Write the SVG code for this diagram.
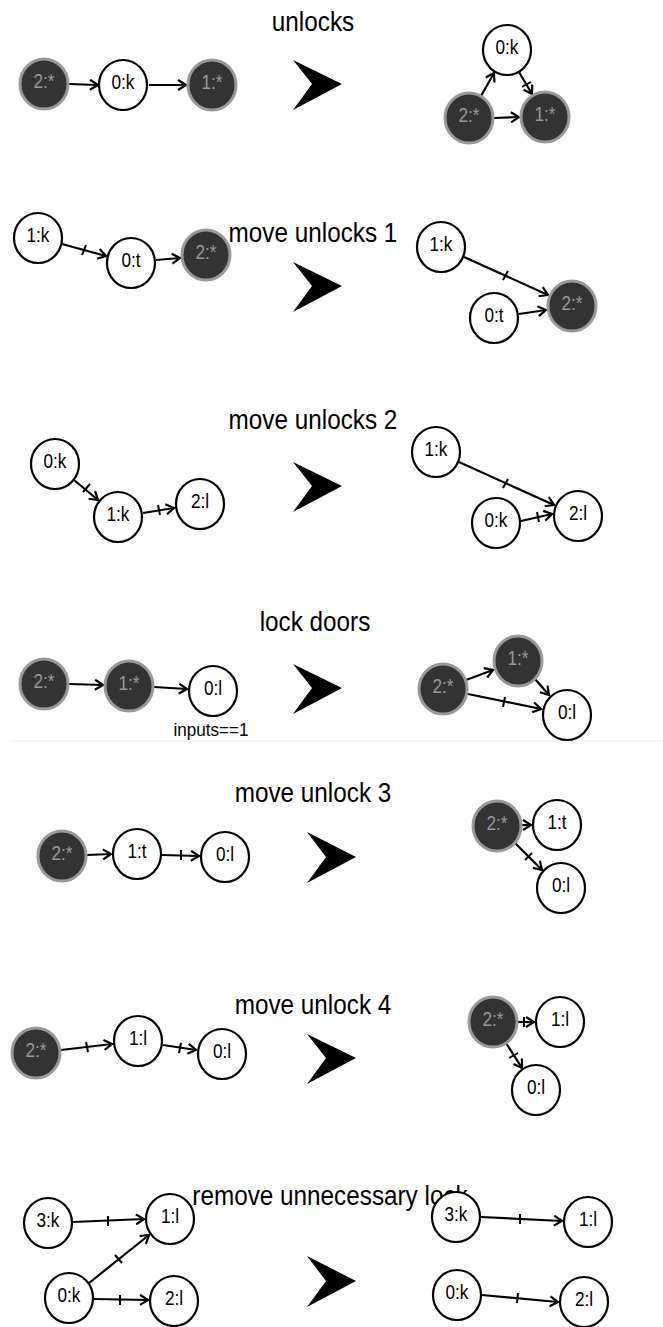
<svg xmlns="http://www.w3.org/2000/svg" width="663" height="1327" viewBox="0 0 663 1327">
<defs>
<marker id="arr" markerUnits="userSpaceOnUse" markerWidth="14" markerHeight="14" refX="10" refY="6" orient="auto">
<path d="M2,1 L10,6 L2,11" fill="none" stroke="#000" stroke-width="2.2"/>
</marker>
<style>
.w{fill:#fff;stroke:#000;stroke-width:2.2}
.d{fill:#333;stroke:#999;stroke-width:3}
.t{font-family:"Liberation Sans",Arial,sans-serif;font-size:20px;text-anchor:middle;fill:#000}
.td{font-family:"Liberation Sans",Arial,sans-serif;font-size:20px;text-anchor:middle;fill:#999}
.title{font-family:"Liberation Sans",Arial,sans-serif;font-size:27px;text-anchor:middle;fill:#000}
.e{stroke:#000;stroke-width:2.2;fill:none;marker-end:url(#arr)}
.k{stroke:#000;stroke-width:2}
.chev{fill:#000}
</style>
</defs>
<rect width="663" height="1327" fill="#fff"/>
<line x1="10" y1="741" x2="663" y2="741" stroke="#eee" stroke-width="1"/>

<g id="titles">
<text class="title" transform="translate(313,31) scale(0.9,1)">unlocks</text>
<text class="title" transform="translate(313,242) scale(0.9,1)">move unlocks 1</text>
<text class="title" transform="translate(313,429) scale(0.9,1)">move unlocks 2</text>
<text class="title" transform="translate(315,631) scale(0.9,1)">lock doors</text>
<text class="title" transform="translate(313,802) scale(0.9,1)">move unlock 3</text>
<text class="title" transform="translate(313,1014) scale(0.9,1)">move unlock 4</text>
<text class="title" transform="translate(330,1205) scale(0.9,1)">remove unnecessary lock</text>
</g>

<g id="chevrons">
<polygon class="chev" points="293,60 342,84 293,110 312,84"/>
<polygon class="chev" points="293,262 342,286 293,312 312,286"/>
<polygon class="chev" points="293,462 342,486 293,512 312,486"/>
<polygon class="chev" points="293,664 342,688 293,714 312,688"/>
<polygon class="chev" points="307,832 356,857 307,883 326,857"/>
<polygon class="chev" points="307,1034 356,1058 307,1084 326,1058"/>
<polygon class="chev" points="307,1256 356,1281 307,1307 326,1281"/>
</g>

<g id="connectors">
<line class="e" x1="69" y1="84" x2="98" y2="85"/>
<line class="e" x1="149" y1="85" x2="186" y2="85"/>
<line class="e" x1="481" y1="96" x2="494" y2="73"/>
<line class="e" x1="519" y1="72" x2="532" y2="94"/>
<line class="k" x1="522" y1="87" x2="531" y2="82"/>
<line class="e" x1="494" y1="118" x2="519" y2="117"/>
<line class="e" x1="62" y1="244" x2="106" y2="256"/>
<line class="k" x1="82" y1="255" x2="86" y2="245"/>
<line class="e" x1="156" y1="260" x2="180" y2="258"/>
<line class="e" x1="464" y1="257" x2="548" y2="295"/>
<line class="k" x1="503" y1="280" x2="508" y2="271"/>
<line class="e" x1="519" y1="314" x2="546" y2="310"/>
<line class="e" x1="74" y1="480" x2="98" y2="500"/>
<line class="k" x1="83" y1="492" x2="90" y2="484"/>
<line class="e" x1="143" y1="513" x2="174" y2="508"/>
<line class="k" x1="158" y1="505" x2="160" y2="515"/>
<line class="e" x1="459" y1="462" x2="554" y2="505"/>
<line class="k" x1="503" y1="488" x2="508" y2="479"/>
<line class="e" x1="521" y1="521" x2="552" y2="514"/>
<line class="k" x1="537" y1="512" x2="539" y2="522"/>
<line class="e" x1="69" y1="684" x2="103" y2="685"/>
<line class="e" x1="154" y1="687" x2="187" y2="689"/>
<line class="e" x1="466" y1="680" x2="493" y2="670"/>
<line class="e" x1="535" y1="679" x2="549" y2="695"/>
<line class="e" x1="468" y1="694" x2="541" y2="709"/>
<line class="k" x1="505" y1="697" x2="503" y2="707"/>
<line class="e" x1="87" y1="855" x2="111" y2="854"/>
<line class="e" x1="162" y1="855" x2="199" y2="856"/>
<line class="k" x1="181" y1="850" x2="181" y2="860"/>
<line class="e" x1="515" y1="825" x2="531" y2="825"/>
<line class="e" x1="515" y1="843" x2="542" y2="870"/>
<line class="k" x1="532" y1="853" x2="525" y2="860"/>
<line class="e" x1="61" y1="1050" x2="112" y2="1044"/>
<line class="k" x1="86" y1="1042" x2="88" y2="1052"/>
<line class="e" x1="163" y1="1045" x2="196" y2="1050"/>
<line class="k" x1="181" y1="1043" x2="179" y2="1053"/>
<line class="e" x1="518" y1="1022" x2="534" y2="1022"/>
<line class="k" x1="524" y1="1017" x2="524" y2="1027"/>
<line class="e" x1="506" y1="1043" x2="522" y2="1068"/>
<line class="k" x1="509" y1="1058" x2="518" y2="1053"/>
<line class="e" x1="73" y1="1222" x2="144" y2="1219"/>
<line class="k" x1="108" y1="1216" x2="108" y2="1226"/>
<line class="e" x1="89" y1="1283" x2="149" y2="1235"/>
<line class="k" x1="115" y1="1255" x2="122" y2="1263"/>
<line class="e" x1="94" y1="1299" x2="148" y2="1300"/>
<line class="k" x1="120" y1="1295" x2="120" y2="1305"/>
<line class="e" x1="481" y1="1217" x2="562" y2="1221"/>
<line class="k" x1="520" y1="1214" x2="520" y2="1224"/>
<line class="e" x1="482" y1="1295" x2="558" y2="1302"/>
<line class="k" x1="518" y1="1293" x2="517" y2="1303"/>
</g>

<g id="p1-l-2"><ellipse class="d" cx="44" cy="84" rx="24" ry="25"/><text class="td" transform="translate(44,88) scale(0.86,1)">2:*</text></g>
<g id="p1-l-0"><ellipse class="w" cx="123" cy="85" rx="24" ry="25"/><text class="t" transform="translate(123,89) scale(0.86,1)">0:k</text></g>
<g id="p1-l-1"><ellipse class="d" cx="212" cy="85" rx="24" ry="25"/><text class="td" transform="translate(212,89) scale(0.86,1)">1:*</text></g>
<g id="p1-r-0"><ellipse class="w" cx="507" cy="50" rx="24" ry="25"/><text class="t" transform="translate(507,54) scale(0.86,1)">0:k</text></g>
<g id="p1-r-2"><ellipse class="d" cx="469" cy="118" rx="24" ry="25"/><text class="td" transform="translate(469,122) scale(0.86,1)">2:*</text></g>
<g id="p1-r-1"><ellipse class="d" cx="545" cy="117" rx="24" ry="25"/><text class="td" transform="translate(545,121) scale(0.86,1)">1:*</text></g>

<g id="p2-l-1"><ellipse class="w" cx="38" cy="238" rx="24" ry="25"/><text class="t" transform="translate(38,242) scale(0.86,1)">1:k</text></g>
<g id="p2-l-0"><ellipse class="w" cx="131" cy="263" rx="24" ry="25"/><text class="t" transform="translate(131,267) scale(0.86,1)">0:t</text></g>
<g id="p2-l-2"><ellipse class="d" cx="206" cy="255" rx="24" ry="25"/><text class="td" transform="translate(206,259) scale(0.86,1)">2:*</text></g>
<g id="p2-r-1"><ellipse class="w" cx="441" cy="247" rx="24" ry="25"/><text class="t" transform="translate(441,251) scale(0.86,1)">1:k</text></g>
<g id="p2-r-0"><ellipse class="w" cx="494" cy="318" rx="24" ry="25"/><text class="t" transform="translate(494,322) scale(0.86,1)">0:t</text></g>
<g id="p2-r-2"><ellipse class="d" cx="572" cy="306" rx="24" ry="25"/><text class="td" transform="translate(572,310) scale(0.86,1)">2:*</text></g>

<g id="p3-l-0"><ellipse class="w" cx="55" cy="464" rx="24" ry="25"/><text class="t" transform="translate(55,468) scale(0.86,1)">0:k</text></g>
<g id="p3-l-1"><ellipse class="w" cx="118" cy="517" rx="24" ry="25"/><text class="t" transform="translate(118,521) scale(0.86,1)">1:k</text></g>
<g id="p3-l-2"><ellipse class="w" cx="200" cy="504" rx="24" ry="25"/><text class="t" transform="translate(200,508) scale(0.86,1)">2:l</text></g>
<g id="p3-r-1"><ellipse class="w" cx="436" cy="452" rx="24" ry="25"/><text class="t" transform="translate(436,456) scale(0.86,1)">1:k</text></g>
<g id="p3-r-0"><ellipse class="w" cx="496" cy="523" rx="24" ry="25"/><text class="t" transform="translate(496,527) scale(0.86,1)">0:k</text></g>
<g id="p3-r-2"><ellipse class="w" cx="578" cy="516" rx="24" ry="25"/><text class="t" transform="translate(578,520) scale(0.86,1)">2:l</text></g>

<g id="p4-l-2"><ellipse class="d" cx="44" cy="684" rx="24" ry="25"/><text class="td" transform="translate(44,688) scale(0.86,1)">2:*</text></g>
<g id="p4-l-1"><ellipse class="d" cx="129" cy="686" rx="24" ry="25"/><text class="td" transform="translate(129,690) scale(0.86,1)">1:*</text></g>
<g id="p4-l-0"><ellipse class="w" cx="213" cy="691" rx="24" ry="25"/><text class="t" transform="translate(213,695) scale(0.86,1)">0:l</text>
<text class="t" style="font-size:19px" transform="translate(211,736) scale(0.9,1)">inputs==1</text></g>
<g id="p4-r-1"><ellipse class="d" cx="518" cy="661" rx="24" ry="25"/><text class="td" transform="translate(518,665) scale(0.86,1)">1:*</text></g>
<g id="p4-r-2"><ellipse class="d" cx="443" cy="689" rx="24" ry="25"/><text class="td" transform="translate(443,693) scale(0.86,1)">2:*</text></g>
<g id="p4-r-0"><ellipse class="w" cx="567" cy="715" rx="24" ry="25"/><text class="t" transform="translate(567,719) scale(0.86,1)">0:l</text></g>

<g id="p5-l-2"><ellipse class="d" cx="62" cy="856" rx="24" ry="25"/><text class="td" transform="translate(62,860) scale(0.86,1)">2:*</text></g>
<g id="p5-l-1"><ellipse class="w" cx="137" cy="854" rx="24" ry="25"/><text class="t" transform="translate(137,858) scale(0.86,1)">1:t</text></g>
<g id="p5-l-0"><ellipse class="w" cx="225" cy="857" rx="24" ry="25"/><text class="t" transform="translate(225,861) scale(0.86,1)">0:l</text></g>
<g id="p5-r-2"><ellipse class="d" cx="497" cy="826" rx="24" ry="25"/><text class="td" transform="translate(497,830) scale(0.86,1)">2:*</text></g>
<g id="p5-r-1"><ellipse class="w" cx="557" cy="825" rx="24" ry="25"/><text class="t" transform="translate(557,829) scale(0.86,1)">1:t</text></g>
<g id="p5-r-0"><ellipse class="w" cx="561" cy="888" rx="24" ry="25"/><text class="t" transform="translate(561,892) scale(0.86,1)">0:l</text></g>

<g id="p6-l-2"><ellipse class="d" cx="36" cy="1053" rx="24" ry="25"/><text class="td" transform="translate(36,1057) scale(0.86,1)">2:*</text></g>
<g id="p6-l-1"><ellipse class="w" cx="138" cy="1041" rx="24" ry="25"/><text class="t" transform="translate(138,1045) scale(0.86,1)">1:l</text></g>
<g id="p6-l-0"><ellipse class="w" cx="222" cy="1054" rx="24" ry="25"/><text class="t" transform="translate(222,1058) scale(0.86,1)">0:l</text></g>
<g id="p6-r-2"><ellipse class="d" cx="493" cy="1022" rx="24" ry="25"/><text class="td" transform="translate(493,1026) scale(0.86,1)">2:*</text></g>
<g id="p6-r-1"><ellipse class="w" cx="560" cy="1022" rx="24" ry="25"/><text class="t" transform="translate(560,1026) scale(0.86,1)">1:l</text></g>
<g id="p6-r-0"><ellipse class="w" cx="536" cy="1090" rx="24" ry="25"/><text class="t" transform="translate(536,1094) scale(0.86,1)">0:l</text></g>

<g id="p7-l-3"><ellipse class="w" cx="48" cy="1223" rx="24" ry="25"/><text class="t" transform="translate(48,1227) scale(0.86,1)">3:k</text></g>
<g id="p7-l-1"><ellipse class="w" cx="170" cy="1219" rx="24" ry="25"/><text class="t" transform="translate(170,1223) scale(0.86,1)">1:l</text></g>
<g id="p7-l-0"><ellipse class="w" cx="69" cy="1298" rx="24" ry="25"/><text class="t" transform="translate(69,1302) scale(0.86,1)">0:k</text></g>
<g id="p7-l-2"><ellipse class="w" cx="174" cy="1301" rx="24" ry="25"/><text class="t" transform="translate(174,1305) scale(0.86,1)">2:l</text></g>
<g id="p7-r-3"><ellipse class="w" cx="456" cy="1217" rx="24" ry="25"/><text class="t" transform="translate(456,1221) scale(0.86,1)">3:k</text></g>
<g id="p7-r-1"><ellipse class="w" cx="588" cy="1222" rx="24" ry="25"/><text class="t" transform="translate(588,1226) scale(0.86,1)">1:l</text></g>
<g id="p7-r-0"><ellipse class="w" cx="457" cy="1295" rx="24" ry="25"/><text class="t" transform="translate(457,1299) scale(0.86,1)">0:k</text></g>
<g id="p7-r-2"><ellipse class="w" cx="584" cy="1302" rx="24" ry="25"/><text class="t" transform="translate(584,1306) scale(0.86,1)">2:l</text></g>
</svg>
